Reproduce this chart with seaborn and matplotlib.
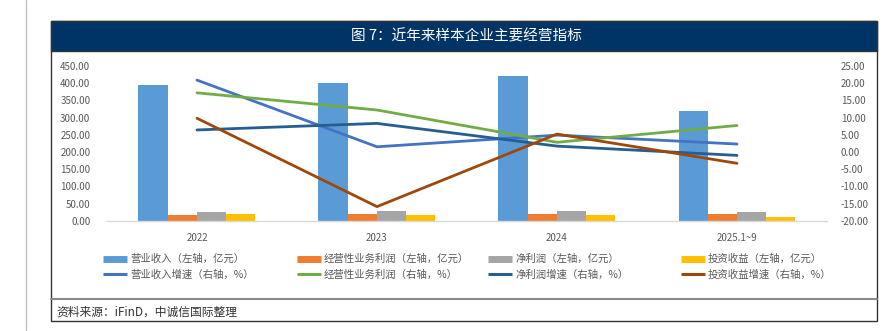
import numpy as np
import pandas as pd
import matplotlib
matplotlib.use("Agg")
import matplotlib.pyplot as plt
import seaborn as sns
from matplotlib.lines import Line2D
from matplotlib.patches import Rectangle

# ---------------- data ----------------
categories = ["2022", "2023", "2024", "2025.1~9"]

bar_names = ["营业收入（左轴，亿元）", "经营性业务利润（左轴，亿元）",
             "净利润（左轴，亿元）", "投资收益（左轴，亿元）"]
revenue = [395, 400, 420, 320]
op_profit = [17, 19.5, 18.6, 18.6]
net_profit = [26, 29, 29, 25.3]
invest_income = [19.5, 16.6, 17, 10.7]

line_names = ["营业收入增速（右轴，%）", "经营性业务利润（右轴，%）",
              "净利润增速（右轴，%）", "投资收益增速（右轴，%）"]
revenue_growth = [20.9, 1.5, 4.9, 2.3]
op_profit_growth = [17.2, 12.2, 2.8, 7.7]
net_profit_growth = [6.4, 8.3, 1.7, -1.0]
invest_growth = [9.8, -15.9, 5.2, -3.3]

left_ticks = [0, 50, 100, 150, 200, 250, 300, 350, 400, 450]
right_ticks = [-20, -15, -10, -5, 0, 5, 10, 15, 20, 25]

bar_colors = ["#5B9BD5", "#ED7D31", "#A5A5A5", "#FFC000"]
line_colors = ["#4472C4", "#70AD47", "#255E91", "#9E480E"]

title = "图 7：近年来样本企业主要经营指标"
source = "资料来源：iFinD，中诚信国际整理"

# ---------------- style ----------------
sns.set_style("white")
plt.rcParams["font.family"] = ["Noto Sans CJK SC", "DejaVu Sans"]

W, H = 895, 331
fig = plt.figure(figsize=(W / 100, H / 100), dpi=100)

def fx(px):
    return px / W

def fy(py):
    return 1 - py / H

# ---------------- frame decorations ----------------
fig.add_artist(Line2D([fx(26), fx(26)], [fy(0), fy(330)], color="#C0C0C0", lw=1.0))
fig.add_artist(Rectangle((fx(51), fy(321)), fx(877) - fx(51), fy(21) - fy(321),
                         fill=False, edgecolor="#333333", lw=1.0))
fig.add_artist(Rectangle((fx(51), fy(51)), fx(877) - fx(51), fy(21) - fy(51),
                         facecolor="#013466", edgecolor="#333333", lw=1.0))
fig.add_artist(Line2D([fx(51), fx(877)], [fy(299), fy(299)], color="#8A8A8A", lw=1.5))
fig.text(fx(466), fy(36), title, color="white", fontsize=10.5, ha="center", va="center")
fig.text(fx(56), fy(312), source, color="#333333", fontsize=8.5, ha="left", va="center",
         style="italic")

# ---------------- main axes ----------------
ax = fig.add_axes([fx(107), fy(220.7), fx(827) - fx(107), fy(66) - fy(220.7)])

bar_df = pd.DataFrame({
    "category": categories * 4,
    "series": sum([[n] * len(categories) for n in bar_names], []),
    "value": revenue + op_profit + net_profit + invest_income,
})
sns.barplot(data=bar_df, x="category", y="value", hue="series", order=categories,
            hue_order=bar_names, palette=bar_colors, width=0.65, gap=0,
            saturation=1, linewidth=0, ax=ax, legend=False)

ax.set_ylim(0, 450)
ax.set_yticks(left_ticks)
ax.set_yticklabels([f"{v:.2f}" for v in left_ticks])
ax.set_xlim(-0.5, 3.5)
ax.set_xlabel("")
ax.set_ylabel("")
for s in ["left", "right", "top"]:
    ax.spines[s].set_visible(False)
ax.spines["bottom"].set_color("#D9D9D9")
ax.spines["bottom"].set_linewidth(1.0)
ax.tick_params(axis="y", length=0, labelsize=7, labelcolor="#595959", pad=12)
ax.tick_params(axis="x", length=0, labelsize=7, labelcolor="#595959", pad=9)

ax2 = ax.twinx()
x_pos = np.arange(len(categories))
line_df = pd.DataFrame({
    "x": np.tile(x_pos, 4),
    "series": sum([[n] * len(categories) for n in line_names], []),
    "value": revenue_growth + op_profit_growth + net_profit_growth + invest_growth,
})
sns.lineplot(data=line_df, x="x", y="value", hue="series", hue_order=line_names,
             palette=line_colors, linewidth=2.0, ax=ax2, legend=False)
ax2.set_ylim(-20, 25)
ax2.set_yticks(right_ticks)
ax2.set_yticklabels([f"{v:.2f}" for v in right_ticks])
ax2.set_xlim(-0.5, 3.5)
ax2.set_xlabel("")
ax2.set_ylabel("")
for s in ["left", "right", "top", "bottom"]:
    ax2.spines[s].set_visible(False)
ax2.tick_params(axis="y", length=0, labelsize=7, labelcolor="#595959", pad=10)

# ---------------- legends (one per column) ----------------
col_x = [103, 297, 488, 681]
for i in range(4):
    handles = [
        Line2D([0], [0], color=bar_colors[i], lw=5, solid_capstyle="butt"),
        Line2D([0], [0], color=line_colors[i], lw=2.2, solid_capstyle="butt"),
    ]
    fig.legend(handles, [bar_names[i], line_names[i]], loc="upper left",
               bbox_to_anchor=(fx(col_x[i]), fy(254)), frameon=False,
               fontsize=7.5, borderpad=0, borderaxespad=0, handlelength=2.3,
               handletextpad=0.3, labelspacing=0.5, labelcolor="#595959")

fig.savefig("out.png", dpi=100)
